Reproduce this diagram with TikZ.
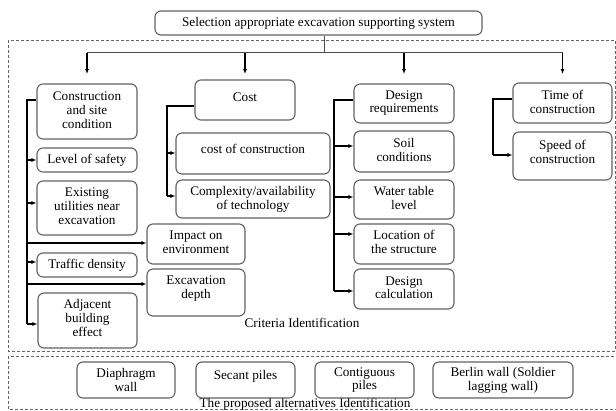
\documentclass[tikz,border=0pt]{standalone}
\usepackage{fontspec}
\setmainfont{Liberation Serif}
\usetikzlibrary{arrows.meta}
\begin{document}
\begin{tikzpicture}[x=1pt,y=-1pt,
  box/.style={draw=black!62,line width=1.1pt,rounded corners=6pt,align=center,inner sep=1pt,
    font=\fontsize{13.2pt}{13.7pt}\selectfont},
  lift/.style={text depth=#1},
  conn/.style={draw=black,line width=1.5pt},
  topline/.style={draw=black!70,line width=1pt},
  arr/.style={conn,-{Latex[length=5pt,width=4pt]}},
  dashbox/.style={draw=black!60,line width=0.9pt,dash pattern=on 3pt off 2pt},
  lbl/.style={font=\fontsize{13.2pt}{13.7pt}\selectfont,inner sep=0pt}]
\useasboundingbox (0,0) rectangle (616,410);
\fill[white] (0,0) rectangle (616,410);
% dashed frames
\draw[dashbox] (8,40) rectangle (615,351);
\draw[dashbox] (8,356) rectangle (618,409);
% top
\node[box,minimum width=327pt,minimum height=24pt] (top) at (318.5,23) {Selection appropriate excavation supporting system};
% level 1
\node[box,lift=3pt,minimum width=100pt,minimum height=55pt] (cons) at (87,111.5) {Construction\\and site\\condition};
\node[box,lift=6pt,minimum width=100pt,minimum height=40pt] (cost) at (245,100) {Cost};
\node[box,lift=3.5pt,minimum width=100pt,minimum height=39pt] (design) at (404,103.5) {Design\\requirements};
\node[box,lift=2pt,minimum width=99pt,minimum height=40pt] (time) at (562.5,103) {Time of\\construction};
% construction group
\node[box,minimum width=100pt,minimum height=24pt] (level) at (87,160) {Level of safety};
\node[box,lift=4pt,minimum width=100pt,minimum height=54pt] (exist) at (87,208) {Existing\\utilities near\\excavation};
\node[box,lift=3.4pt,minimum width=98pt,minimum height=40pt] (impact) at (196,244) {Impact on\\environment};
\node[box,minimum width=100pt,minimum height=24pt] (traffic) at (87,265) {Traffic density};
\node[box,lift=10.9pt,minimum width=98pt,minimum height=47pt] (excav) at (196,292.5) {Excavation\\depth};
\node[box,lift=5pt,minimum width=99pt,minimum height=55pt] (adj) at (87.5,320.5) {Adjacent\\building\\effect};
% cost group
\node[box,lift=10pt,minimum width=154pt,minimum height=41pt] (costc) at (253,153.5) {cost of construction};
\node[box,minimum width=154pt,minimum height=38pt] (cplx) at (253,199) {Complexity/availability\\of technology};
% design group
\node[box,lift=3pt,minimum width=100pt,minimum height=41pt] (soil) at (404,151.5) {Soil\\conditions};
\node[box,lift=3pt,minimum width=100pt,minimum height=39pt] (water) at (404,199.5) {Water table\\level};
\node[box,lift=5pt,minimum width=100pt,minimum height=40pt] (loc) at (404,244) {Location of\\the structure};
\node[box,lift=3pt,minimum width=100pt,minimum height=40pt] (calc) at (404,289) {Design\\calculation};
% time group
\node[box,lift=9pt,minimum width=99pt,minimum height=48pt] (speed) at (562.5,156) {Speed of\\construction};
% labels
\node[lbl] (crit) at (302,323) {Criteria Identification};
\node[lbl] (alt) at (305,404) {The proposed alternatives Identification};
% alternatives
\node[box,minimum width=98pt,minimum height=36pt] (dia) at (126,380) {Diaphragm\\wall};
\node[box,lift=10.9pt,minimum width=99pt,minimum height=36pt] (sec) at (245.5,380) {Secant piles};
\node[box,minimum width=99pt,minimum height=36pt] (con) at (364.5,380) {Contiguous\\piles};
\node[box,minimum width=140pt,minimum height=36pt] (ber) at (503,380) {Berlin wall (Soldier\\lagging wall)};
% top connectors
\coordinate (hub) at (324,52.5);
\coordinate (tip) at (0,74);
\draw[topline] (top.south -| hub) -- (hub);
\draw[topline] (cons.north |- hub) -- (time.north |- hub);
\foreach \n in {cons,cost,design,time}
  \draw[arr,line width=1.3pt] (\n.north |- hub) -- (\n.north |- tip);
% construction spine
\coordinate (s1) at (27,0);
\draw[conn] ([yshift=11.5pt]cons.west) -| (s1 |- 0,324);
\draw[arr] (s1 |- 0,160) -- (level.west |- 0,160);
\draw[arr] (s1 |- 0,203) -- (exist.west |- 0,203);
\draw[arr] (s1 |- 0,243) -- (impact.west |- 0,243);
\draw[arr] (s1 |- 0,262) -- (traffic.west |- 0,262);
\draw[arr] (s1 |- 0,284) -- (excav.west |- 0,284);
\draw[arr] (s1 |- 0,324) -- (adj.west |- 0,324);
% cost spine
\coordinate (s2) at (167,0);
\draw[conn] ([yshift=-6pt]cost.west) -| (s2 |- 0,196);
\draw[arr] (s2 |- 0,153) -- (costc.west |- 0,153);
\draw[arr] (s2 |- 0,196) -- (cplx.west |- 0,196);
% design spine
\coordinate (s3) at (334,0);
\draw[conn] ([yshift=3.5pt]design.west) -| (s3 |- 0,291);
\draw[arr] (s3 |- 0,146) -- (soil.west |- 0,146);
\draw[arr] (s3 |- 0,197) -- (water.west |- 0,197);
\draw[arr] (s3 |- 0,234) -- (loc.west |- 0,234);
\draw[arr] (s3 |- 0,291) -- (calc.west |- 0,291);
% time spine
\coordinate (s4) at (493,0);
\draw[conn] ([yshift=4pt]time.west) -| (s4 |- 0,155);
\draw[arr] (s4 |- 0,155) -- (speed.west |- 0,155);
\end{tikzpicture}
\end{document}
